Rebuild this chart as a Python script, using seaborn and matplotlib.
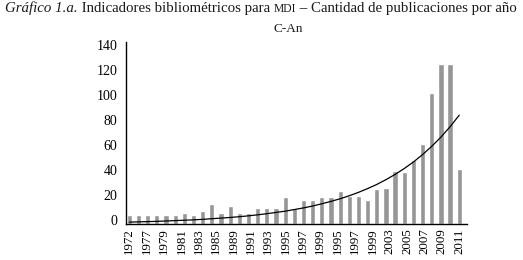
import numpy as np
import pandas as pd
import matplotlib
matplotlib.use("Agg")
import matplotlib.pyplot as plt
import matplotlib.transforms as mtransforms
import seaborn as sns

# publicaciones por año
publicaciones = [7, 7, 7, 7, 7, 7, 9, 7, 10.5, 16, 9, 14.5, 9, 9, 12.7, 12.7,
                 12.7, 21.7, 12.7, 19, 19, 21.7, 21.7, 26, 22, 22, 19, 28,
                 28.4, 42, 41.4, 51.3, 63.6, 104.5, 127.3, 127.3, 43.8]
# línea de tendencia
tendencia = [1.5, 1.7, 1.9, 2.1, 2.4, 2.7, 3.0, 3.3, 3.7, 4.2, 4.7, 5.2, 5.8,
             6.5, 7.3, 8.2, 9.2, 10.2, 11.5, 12.8, 14.3, 16.1, 18.0, 20.1,
             22.5, 25.2, 28.2, 31.5, 35.3, 39.5, 44.2, 49.4, 55.3, 61.9, 69.2,
             77.5, 86.7]
etiquetas_x = ["1972", "1977", "1979", "1981", "1983", "1985", "1989", "1991",
               "1993", "1995", "1997", "1999", "1995", "1997", "1999", "2003",
               "2005", "2007", "2009", "2011"]
ticks_y = [0, 20, 40, 60, 80, 100, 120, 140]

sns.set_style("white")
plt.rcParams["font.family"] = ["Liberation Serif", "DejaVu Serif"]

df = pd.DataFrame({"pos": np.arange(len(publicaciones)),
                   "publicaciones": publicaciones,
                   "tendencia": tendencia})

fig = plt.figure(figsize=(5.23, 2.60), dpi=100)
ax = fig.add_axes([0.2403, 0.1385, 0.6527, 0.70])

sns.barplot(data=df, x="pos", y="publicaciones", color="#969696",
            saturation=1, width=0.57, ax=ax)
ax.plot(df["pos"], df["tendencia"], color="black", lw=0.9)

ax.set_xlim(-0.4, 36.85)
ax.set_ylim(0, 145)
ax.set_yticks(ticks_y)
ax.set_yticklabels([str(t) for t in ticks_y], fontsize=10)
ax.set_xticks(np.linspace(0, len(publicaciones) - 1, len(etiquetas_x)))
ax.set_xticklabels(etiquetas_x, rotation=90, fontsize=9.3)
ax.tick_params(axis="both", length=0, pad=6, colors="black")
ax.tick_params(axis="x", pad=3)
ax.set_xlabel("")
ax.set_ylabel("")
sns.despine(ax=ax)
for lado in ["left", "bottom"]:
    ax.spines[lado].set_color("black")
    ax.spines[lado].set_linewidth(1.0)

# las etiquetas del eje y quedan un poco por encima de la marca
desplazar = mtransforms.ScaledTranslation(0, 0.035, fig.dpi_scale_trans)
for lbl in ax.get_yticklabels():
    lbl.set_transform(lbl.get_transform() + desplazar)

# título con partes en cursiva y versalitas
renderer = fig.canvas.get_renderer()
y_tit = 1 - 12 / 260
tam = 10.75
x = 5 / 523
partes = [("Gráfico 1.a.", "italic", tam),
          (" Indicadores bibliométricos para ", "normal", tam),
          ("MDI", "normal", tam * 0.78),
          (" – Cantidad de publicaciones por año", "normal", tam)]
for texto, estilo, t in partes:
    obj = fig.text(x, y_tit, texto, fontsize=t, style=estilo,
                   va="baseline", ha="left", color="#1a1a1a")
    bb = obj.get_window_extent(renderer)
    x = bb.x1 / fig.bbox.width

fig.text(288 / 523, 1 - 29 / 260, "C-An", fontsize=9.5, ha="center",
         va="center", color="#1a1a1a")

fig.savefig("out.png", dpi=100)
